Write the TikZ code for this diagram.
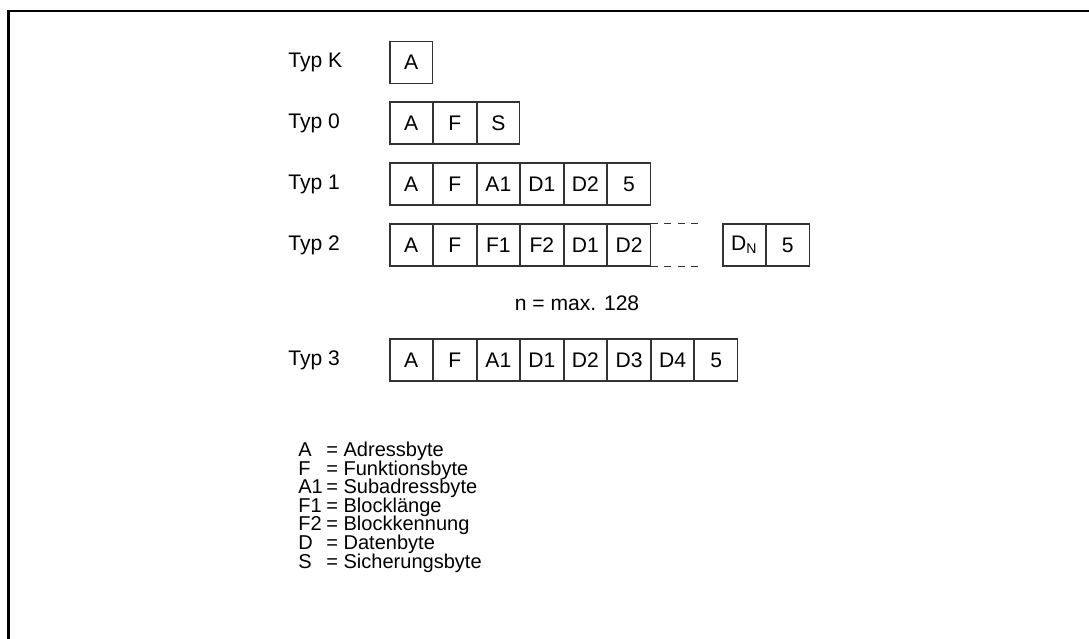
\documentclass[tikz,border=0pt]{standalone}
\usepackage{fontspec}
\setmainfont{Liberation Sans}
\usepackage{tikz}
\usetikzlibrary{positioning}

\begin{document}
\begin{tikzpicture}[font=\fontsize{12}{14}\selectfont,
	feld/.style={draw=black!80,line width=0.6pt,minimum width=0.85cm,minimum height=0.84cm,inner sep=0pt},
	typ/.style={anchor=west,inner sep=0pt},
	leg/.style={anchor=base west,inner sep=0pt,font=\fontsize{11.4}{13}\selectfont},
	luecke/.style={draw=black!80,line width=0.6pt,dash pattern=on 4pt off 3.6pt}]
		\useasboundingbox (0,0) rectangle (21.78,12.78);
		\draw[line width=1.2pt] (0.17,0) -- (0.17,12.56) -- (21.78,12.56);
		% Typ K
		\node[typ] (tk) at (5.76,11.53) {Typ K};
		\node[feld] (k1) at (8.225,11.53) {A};
		% Typ 0
		\node[typ] (t0) at (5.76,10.32) {Typ 0};
		\node[feld] (n1) at (8.225,10.32) {A};
		\node[feld,right=0pt of n1] (n2) {F};
		\node[feld,right=0pt of n2] (n3) {S};
		% Typ 1
		\node[typ] (t1) at (5.76,9.10) {Typ 1};
		\node[feld] (e1) at (8.225,9.10) {A};
		\node[feld,right=0pt of e1] (e2) {F};
		\node[feld,right=0pt of e2] (e3) {A1};
		\node[feld,right=0pt of e3] (e4) {D1};
		\node[feld,right=0pt of e4] (e5) {D2};
		\node[feld,right=0pt of e5] (e6) {5};
		% Typ 2
		\node[typ] (t2) at (5.76,7.88) {Typ 2};
		\node[feld] (z1) at (8.225,7.88) {A};
		\node[feld,right=0pt of z1] (z2) {F};
		\node[feld,right=0pt of z2] (z3) {F1};
		\node[feld,right=0pt of z3] (z4) {F2};
		\node[feld,right=0pt of z4] (z5) {D1};
		\node[feld,right=0pt of z5] (z6) {D2};
		\node[feld] (z7) at (14.885,7.88) {D\textsubscript{N}};
		\node[feld,right=0pt of z7] (z8) {5};
		\draw[luecke] (z6.north east) -- ++(0.96,0);
		\draw[luecke] (z6.south east) -- ++(0.96,0);
		\node (nmax) at (11.54,6.72) {n = max. 128};
		% Typ 3
		\node[typ] (t3) at (5.76,5.58) {Typ 3};
		\node[feld] (d1) at (8.225,5.58) {A};
		\node[feld,right=0pt of d1] (d2) {F};
		\node[feld,right=0pt of d2] (d3) {A1};
		\node[feld,right=0pt of d3] (d4) {D1};
		\node[feld,right=0pt of d4] (d5) {D2};
		\node[feld,right=0pt of d5] (d6) {D3};
		\node[feld,right=0pt of d6] (d7) {D4};
		\node[feld,right=0pt of d7] (d8) {5};
		% Legende
		\node[leg] (ka) at (5.96,3.64) {A};
		\node[leg] (la) at (6.52,3.64) {= Adressbyte};
		\node[leg] (kf) at (5.96,3.27) {F};
		\node[leg] (lf) at (6.52,3.27) {= Funktionsbyte};
		\node[leg] (ka1) at (5.96,2.90) {A1};
		\node[leg] (la1) at (6.52,2.90) {= Subadressbyte};
		\node[leg] (kf1) at (5.96,2.53) {F1};
		\node[leg] (lf1) at (6.52,2.53) {= Blockl\"ange};
		\node[leg] (kf2) at (5.96,2.16) {F2};
		\node[leg] (lf2) at (6.52,2.16) {= Blockkennung};
		\node[leg] (kd) at (5.96,1.79) {D};
		\node[leg] (ld) at (6.52,1.79) {= Datenbyte};
		\node[leg] (ks) at (5.96,1.42) {S};
		\node[leg] (ls) at (6.52,1.42) {= Sicherungsbyte};
	\end{tikzpicture}
\end{document}
